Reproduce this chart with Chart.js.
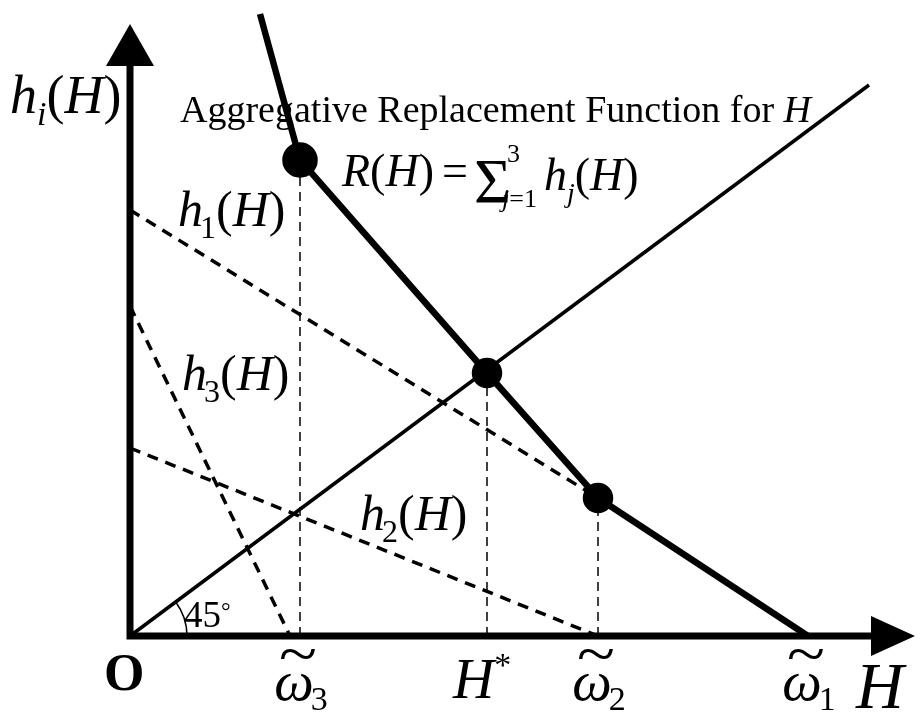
<!DOCTYPE html>
<html>
<head>
<meta charset="utf-8">
<script src="https://cdn.jsdelivr.net/npm/chart.js@4.4.1/dist/chart.umd.min.js"></script>
<style>
  html, body { margin: 0; padding: 0; background: #fff; }
  canvas { display: block; }
</style>
</head>
<body>
<canvas id="chart" width="921" height="720"></canvas>
<script>
"use strict";

// Chart values (origin at O)
const tickLabels = ['ω3', 'H*', 'ω2', 'ω1'];
const tickValues = [170, 357, 468, 678];

const h1X = [0, 468];
const h1Y = [426, 138];
const h2X = [0, 468];
const h2Y = [188, 0];
const h3X = [0, 160];
const h3Y = [330, 0];
const diagX = [0, 739];
const diagY = [0, 551];
const rX = [130, 170, 357, 468, 678];
const rY = [622, 476, 263, 138, 0];

const xAxisEnd = 785;
const yAxisEnd = 612;

function pts(xs, ys) {
    return xs.map(function (x, i) { return { x: x, y: ys[i] }; });
}

// Vertical guide lines from the x axis up to the kinks of R(H)
var guides = [1, 2, 3].map(function (i) {
    return {
        data: [{ x: rX[i], y: 0 }, { x: rX[i], y: rY[i] }],
        borderColor: '#000',
        borderWidth: 1.5,
        borderDash: [9, 6],
        pointRadius: 0,
        order: 5
    };
});

var serif = '"Liberation Serif", "Times New Roman", serif';

function drawRuns(ctx, x, y, runs) {
    runs.forEach(function (r) {
        ctx.font = r[1];
        if (r[3] !== undefined) x = r[3];
        ctx.fillText(r[0], x, y + (r[2] || 0));
        x += ctx.measureText(r[0]).width;
    });
    return x;
}

function omega(ctx, cx, base, sub) {
    ctx.font = 'italic 56px ' + serif;
    var w = ctx.measureText('ω').width;
    var left = cx - w / 2 - 6;
    ctx.fillText('ω', left, base);
    ctx.save();
    ctx.font = '54px ' + serif;
    var tw = ctx.measureText('~').width;
    ctx.translate(left + w / 2 + 4, base - 26);
    ctx.scale(1.3, 1.1);
    ctx.fillText('~', -tw / 2, 0);
    ctx.restore();
    ctx.font = '34px ' + serif;
    ctx.fillText(sub, left + w - 3, base + 10);
}

var decorations = {
    id: 'decorations',
    afterDatasetsDraw: function (chart) {
        var ctx = chart.ctx;
        var xs = chart.scales.x, ys = chart.scales.y;
        var ox = xs.getPixelForValue(0), oy = ys.getPixelForValue(0);
        ctx.save();
        ctx.fillStyle = '#000';
        ctx.strokeStyle = '#000';

        // arrow heads
        var tipY = ys.getPixelForValue(yAxisEnd);
        ctx.beginPath();
        ctx.moveTo(ox, tipY);
        ctx.lineTo(ox - 24, tipY + 42);
        ctx.lineTo(ox + 24, tipY + 42);
        ctx.closePath();
        ctx.fill();
        var tipX = xs.getPixelForValue(xAxisEnd);
        ctx.beginPath();
        ctx.moveTo(tipX, oy);
        ctx.lineTo(tipX - 44, oy - 20);
        ctx.lineTo(tipX - 44, oy + 20);
        ctx.closePath();
        ctx.fill();

        // 45 degree arc
        var ang = Math.atan2(diagY[1], diagX[1]);
        ctx.lineWidth = 1.5;
        ctx.beginPath();
        ctx.arc(ox, oy, 57, -ang, 0);
        ctx.stroke();

        ctx.textBaseline = 'alphabetic';
        ctx.textAlign = 'left';

        // axis titles
        drawRuns(ctx, 10, 113, [
            ['h', 'italic 54px ' + serif],
            ['i', 'italic 34px ' + serif, 12],
            ['(', '54px ' + serif],
            ['H', 'italic 54px ' + serif],
            [')', '54px ' + serif]
        ]);
        drawRuns(ctx, 856, 708, [['H', 'italic 66px ' + serif]]);
        drawRuns(ctx, 104, 690, [['O', 'bold 52px ' + serif]]);
        drawRuns(ctx, 184, 627, [['45', '37px ' + serif], ['°', '24px ' + serif, -8]]);

        // title and formula
        drawRuns(ctx, 180, 122, [
            ['Aggregative Replacement Function for ', '38px ' + serif],
            ['H', 'italic 38px ' + serif]
        ]);
        var fx = drawRuns(ctx, 342, 186, [
            ['R', 'italic 46px ' + serif],
            ['(', '46px ' + serif],
            ['H', 'italic 46px ' + serif],
            [')', '46px ' + serif]
        ]);
        fx = drawRuns(ctx, fx + 8, 186, [['=', '46px ' + serif]]);
        drawRuns(ctx, fx + 6, 203, [['Σ', '64px ' + serif]]);
        drawRuns(ctx, 507, 162, [['3', '26px ' + serif]]);
        drawRuns(ctx, 502, 207, [['j', 'italic 26px ' + serif], ['=1', '26px ' + serif]]);
        drawRuns(ctx, 544, 190, [
            ['h', 'italic 46px ' + serif],
            ['j', 'italic 28px ' + serif, 12],
            ['(', '46px ' + serif],
            ['H', 'italic 46px ' + serif],
            [')', '46px ' + serif]
        ]);

        // curve labels
        [['1', 178, 226], ['3', 182, 390], ['2', 360, 530]].forEach(function (l) {
            drawRuns(ctx, l[1], l[2], [
                ['h', 'italic 50px ' + serif],
                [l[0], '32px ' + serif, 12, l[1] + 22],
                ['(', '50px ' + serif],
                ['H', 'italic 50px ' + serif],
                [')', '50px ' + serif]
            ]);
        });

        // x tick labels
        tickLabels.forEach(function (t, i) {
            var px = xs.getPixelForValue(tickValues[i]);
            if (t.charAt(0) === 'ω') {
                omega(ctx, px, 700, t.charAt(1));
            } else {
                drawRuns(ctx, px - 34, 698, [
                    ['H', 'italic 57px ' + serif],
                    ['*', '34px ' + serif, -22]
                ]);
            }
        });
        ctx.restore();
    }
};

new Chart(document.getElementById('chart'), {
    type: 'scatter',
    data: {
        datasets: [
            {
                // aggregate replacement function
                data: pts(rX, rY),
                borderColor: '#000',
                backgroundColor: '#000',
                borderWidth: 6.5,
                pointRadius: [0, 14.5, 12, 12, 0],
                pointHoverRadius: 0,
                order: 0
            },
            {
                data: pts(diagX, diagY),
                borderColor: '#000',
                borderWidth: 3.5,
                pointRadius: 0,
                order: 1
            },
            {
                data: pts(h1X, h1Y),
                borderColor: '#000',
                borderWidth: 3.5,
                borderDash: [11, 8],
                pointRadius: 0,
                order: 2
            },
            {
                data: pts(h2X, h2Y),
                borderColor: '#000',
                borderWidth: 3.5,
                borderDash: [11, 8],
                pointRadius: 0,
                order: 3
            },
            {
                data: pts(h3X, h3Y),
                borderColor: '#000',
                borderWidth: 3.5,
                borderDash: [11, 8],
                pointRadius: 0,
                order: 4
            },
            {
                // axes
                data: [{ x: 0, y: yAxisEnd - 42 }, { x: 0, y: 0 }, { x: xAxisEnd - 44, y: 0 }],
                borderColor: '#000',
                borderWidth: 7,
                borderCapStyle: 'square',
                pointRadius: 0,
                order: 6
            }
        ].concat(guides)
    },
    options: {
        responsive: false,
        animation: false,
        showLine: true,
        layout: { padding: 0 },
        plugins: {
            legend: { display: false },
            tooltip: { enabled: false },
            title: { display: false }
        },
        scales: {
            x: { type: 'linear', min: -130, max: 791, display: false },
            y: { type: 'linear', min: -84, max: 636, display: false }
        }
    },
    plugins: [decorations]
});
</script>
</body>
</html>
